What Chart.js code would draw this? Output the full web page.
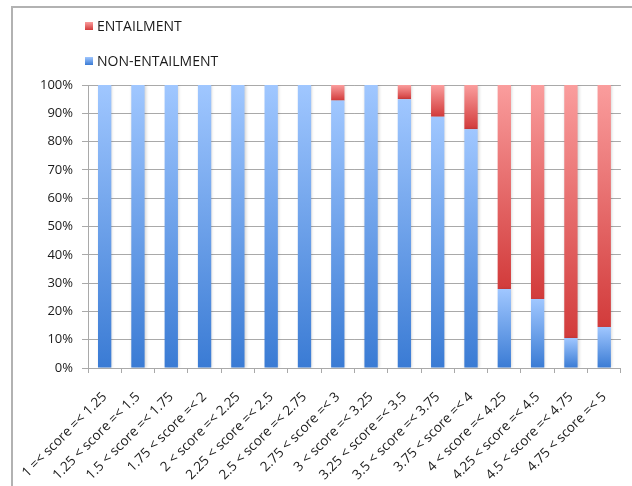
<!DOCTYPE html>
<html>
<head>
<meta charset="utf-8">
<script src="https://cdn.jsdelivr.net/npm/chart.js@4/dist/chart.umd.min.js"></script>
<style>
  html, body { margin: 0; padding: 0; background: #ffffff; }
  #wrap { position: relative; width: 632px; height: 486px; }
  canvas { display: block; }
</style>
</head>
<body>
<div id="wrap"><canvas id="c" width="632" height="486"></canvas></div>
<script>
// Score bins on the x axis
const categories = [
  '1 =< score =< 1.25', '1.25 < score =< 1.5', '1.5 < score =< 1.75', '1.75 < score =< 2',
  '2 < score =< 2.25', '2.25 < score =< 2.5', '2.5 < score =< 2.75', '2.75 < score =< 3',
  '3 < score =< 3.25', '3.25 < score =< 3.5', '3.5 < score =< 3.75', '3.75 < score =< 4',
  '4 < score =< 4.25', '4.25 < score =< 4.5', '4.5 < score =< 4.75', '4.75 < score =< 5'
];

// Share of each bin (percent)
const nonEntailment = [100, 100, 100, 100, 100, 100, 100, 94.5, 100, 95.0, 88.8, 84.4, 27.9, 24.4, 10.6, 14.5];
const entailment    = [0, 0, 0, 0, 0, 0, 0, 5.5, 0, 5.0, 11.2, 15.6, 72.1, 75.6, 89.4, 85.5];

// Value axis ticks
const yTicks = [0, 10, 20, 30, 40, 50, 60, 70, 80, 90, 100];

const FONT = "'Open Sans', 'DejaVu Sans', sans-serif";
const GRID = '#a9a9a9';

const BLUE = { light: '#a0c7ff', dark: '#3a7bd4' };
const RED  = { light: '#fa9d9d', dark: '#d23b3b' };

// Vertical gradient spanning just the stacked segment of each bar
function segmentFill(colors) {
  return (c) => {
    const chart = c.chart;
    const y = chart.scales && chart.scales.y;
    if (c.type !== 'data' || !y) return colors.dark;
    let base = 0;
    for (let i = 0; i < c.datasetIndex; i++) base += chart.data.datasets[i].data[c.dataIndex];
    const top = base + c.raw;
    const yTop = y.getPixelForValue(top);
    const yBot = y.getPixelForValue(base);
    if (!isFinite(yTop) || !isFinite(yBot) || yBot - yTop < 0.5) return colors.dark;
    const g = chart.ctx.createLinearGradient(0, yTop, 0, yBot);
    g.addColorStop(0, colors.light);
    g.addColorStop(1, colors.dark);
    return g;
  };
}

// Outer frame lines and the stacked legend in the top-left corner
const decorations = {
  id: 'decorations',
  beforeDraw(chart) {
    const ctx = chart.ctx;
    ctx.save();
    ctx.strokeStyle = '#b2b2b2';
    ctx.lineWidth = 2;
    ctx.beginPath();
    ctx.moveTo(12, 486);
    ctx.lineTo(12, 7);
    ctx.lineTo(632, 7);
    ctx.stroke();
    ctx.restore();
  },
  beforeDatasetsDraw(chart) {
    const ctx = chart.ctx;
    ctx.save();
    ctx.shadowColor = 'rgba(0,0,0,0.18)';
    ctx.shadowBlur = 3;
    ctx.shadowOffsetX = 1;
    ctx.shadowOffsetY = 0;
  },
  afterDatasetsDraw(chart) {
    chart.ctx.restore();
  },
  afterDraw(chart) {
    const ctx = chart.ctx;
    const items = chart.data.datasets.slice().reverse();
    const rows = [26, 61];
    ctx.save();
    items.forEach((ds, i) => {
      const cy = rows[i];
      const g = ctx.createLinearGradient(0, cy - 4, 0, cy + 4);
      g.addColorStop(0, ds.legendColors.light);
      g.addColorStop(1, ds.legendColors.dark);
      ctx.fillStyle = g;
      ctx.fillRect(85, cy - 4, 8, 8);
      ctx.fillStyle = '#1a1a1a';
      ctx.font = '14px ' + FONT;
      ctx.textBaseline = 'middle';
      ctx.textAlign = 'left';
      ctx.fillText(ds.label, 97, cy + 1);
    });
    ctx.restore();
  }
};

new Chart(document.getElementById('c'), {
  type: 'bar',
  data: {
    labels: categories,
    datasets: [
      {
        label: 'NON-ENTAILMENT',
        data: nonEntailment,
        backgroundColor: segmentFill(BLUE),
        legendColors: BLUE,
        borderWidth: 0,
        categoryPercentage: 1,
        barPercentage: 0.4
      },
      {
        label: 'ENTAILMENT',
        data: entailment,
        backgroundColor: segmentFill(RED),
        legendColors: RED,
        borderWidth: 0,
        categoryPercentage: 1,
        barPercentage: 0.4
      }
    ]
  },
  options: {
    responsive: false,
    animation: false,
    devicePixelRatio: 1,
    layout: { padding: { top: 85, right: 10, left: 0, bottom: 0 } },
    plugins: {
      legend: { display: false },
      tooltip: { enabled: false }
    },
    scales: {
      x: {
        stacked: true,
        ticks: {
          autoSkip: false,
          minRotation: 45,
          maxRotation: 45,
          padding: 16,
          color: '#1a1a1a',
          font: { family: FONT, size: 13.5 }
        },
        grid: { offset: true, drawOnChartArea: false, drawTicks: true, tickLength: 5, color: GRID },
        border: { color: GRID },
        afterFit(s) { s.height = 118; }
      },
      y: {
        stacked: true,
        min: 0,
        max: 100,
        afterBuildTicks(s) { s.ticks = yTicks.map(v => ({ value: v })); },
        ticks: {
          callback: v => v + '%',
          padding: 9,
          color: '#1a1a1a',
          font: { family: FONT, size: 13 }
        },
        grid: { color: GRID, lineWidth: 1, drawTicks: true, tickLength: 6 },
        border: { color: GRID },
        afterFit(s) { s.width = 88; }
      }
    }
  },
  plugins: [decorations]
});
</script>
</body>
</html>
